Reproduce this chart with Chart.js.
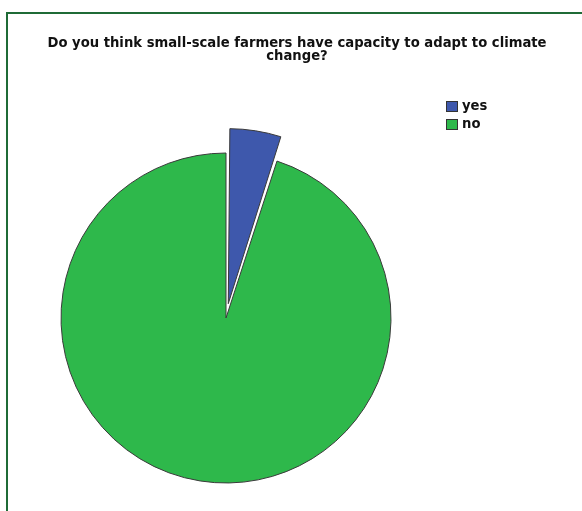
<!DOCTYPE html>
<html>
<head>
<meta charset="utf-8">
<script src="https://cdn.jsdelivr.net/npm/chart.js@4"></script>
<style>
  html, body { margin: 0; padding: 0; background: #fff; overflow: hidden; }
  #wrap { position: relative; width: 582px; height: 511px; }
  #frame {
    position: absolute; left: 6px; top: 12px; width: 620px; height: 540px;
    border-left: 2px solid #1f6b36; border-top: 2px solid #1f6b36;
  }
  canvas { position: absolute; left: 0; top: 0; }
</style>
</head>
<body>
<div id="wrap">
  <div id="frame"></div>
  <canvas id="pie" width="582" height="511"></canvas>
</div>
<script>
const TITLE_LINES = ['Do you think small-scale farmers have capacity to adapt to climate', 'change?'];
const categories = ['yes', 'no'];
const counts = [5, 95];
const sliceColors = ['#3e58ac', '#2eb84b'];
const explode = [58, 0];

const FONT = 'bold 13.2px "DejaVu Sans", "Liberation Sans", Arial, sans-serif';

// two-line heading, centred a little right of the pie
const heading = {
  id: 'heading',
  afterDraw(chart) {
    const ctx = chart.ctx;
    ctx.save();
    ctx.font = FONT;
    ctx.fillStyle = '#111';
    ctx.textAlign = 'center';
    ctx.textBaseline = 'alphabetic';
    TITLE_LINES.forEach((line, i) => ctx.fillText(line, 297, 47 + i * 13));
    ctx.restore();
  },
};

// legend in the top right, drawn from the dataset itself
const sideLegend = {
  id: 'sideLegend',
  afterDraw(chart) {
    const ctx = chart.ctx;
    const ds = chart.data.datasets[0];
    ctx.save();
    ctx.font = FONT;
    ctx.textBaseline = 'middle';
    chart.data.labels.forEach((lbl, i) => {
      const x = 446, y = 101 + i * 18;
      ctx.fillStyle = ds.backgroundColor[i];
      ctx.fillRect(x, y, 12, 11);
      ctx.strokeStyle = '#333';
      ctx.lineWidth = 1;
      ctx.strokeRect(x + 0.5, y + 0.5, 11, 10);
      ctx.fillStyle = '#111';
      ctx.fillText(lbl, x + 16, y + 6);
    });
    ctx.restore();
  },
};

new Chart(document.getElementById('pie'), {
  type: 'pie',
  data: {
    labels: categories,
    datasets: [{
      data: counts,
      backgroundColor: sliceColors,
      borderColor: '#3a3a3a',
      borderWidth: 1,
      offset: explode,
      hoverOffset: 0,
      radius: 165,
    }],
  },
  options: {
    responsive: false,
    animation: false,
    events: [],
    layout: { padding: { left: 40, right: 170, top: 150, bottom: 25 } },
    plugins: {
      legend: { display: false },
      tooltip: { enabled: false },
      title: { display: false },
    },
  },
  plugins: [heading, sideLegend],
});
</script>
</body>
</html>
